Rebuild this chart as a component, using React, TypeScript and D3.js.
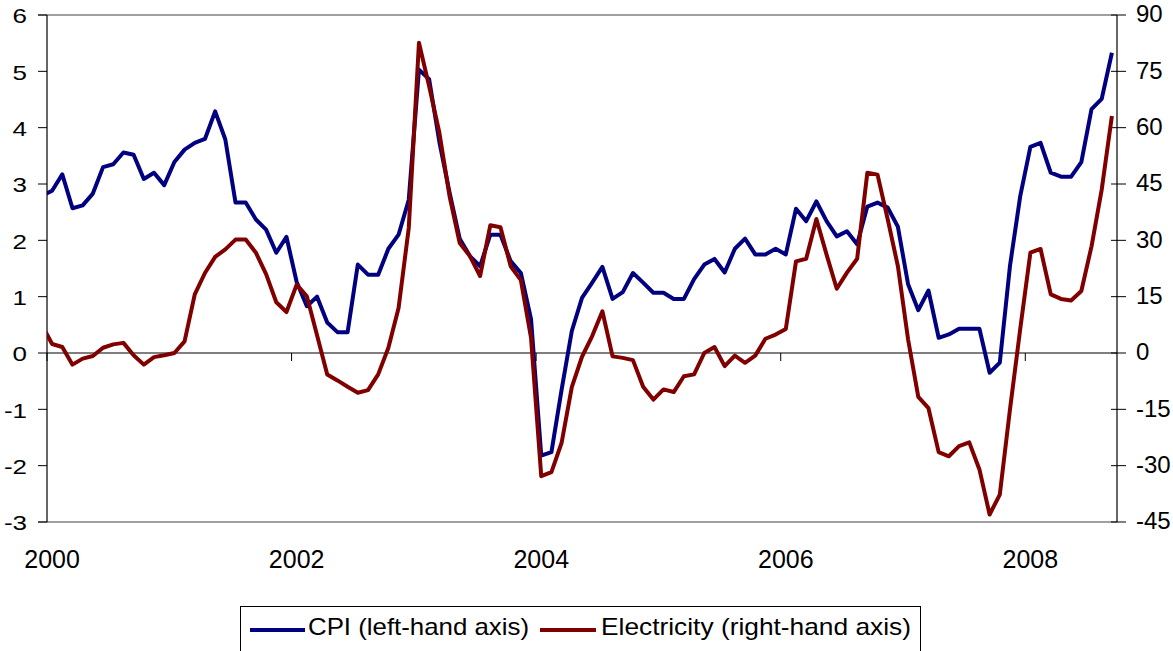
import React from 'react';
import * as d3 from 'd3';

// monthly, Dec 1999 .. Sep 2008 (first point sits just left of the axis and is clipped)
const cpi = [
  2.79,
  2.88, 3.17, 2.57, 2.62, 2.83, 3.30, 3.35, 3.56, 3.52, 3.09, 3.20, 2.98,
  3.39, 3.61, 3.73, 3.80, 4.29, 3.79, 2.67, 2.67, 2.37, 2.19, 1.78, 2.06,
  1.26, 0.83, 1.00, 0.54, 0.37, 0.37, 1.57, 1.39, 1.39, 1.85, 2.10, 2.72,
  5.03, 4.86, 3.75, 2.85, 2.03, 1.72, 1.54, 2.10, 2.10, 1.63, 1.42, 0.60,
  -1.82, -1.76, -0.65, 0.39, 0.98, 1.25, 1.53, 0.96, 1.08, 1.42, 1.25, 1.07,
  1.07, 0.96, 0.96, 1.31, 1.57, 1.67, 1.43, 1.85, 2.03, 1.75, 1.75, 1.85,
  1.75, 2.56, 2.34, 2.69, 2.34, 2.07, 2.16, 1.93, 2.60, 2.67, 2.58, 2.24,
  1.22, 0.76, 1.11, 0.27, 0.33, 0.43, 0.43, 0.43, -0.35, -0.17, 1.55, 2.78,
  3.66, 3.73, 3.20, 3.13, 3.13, 3.39, 4.33, 4.51, 5.33,
];

const electricity = [
  7.5,
  2.4, 1.6, -3.1, -1.5, -0.8, 1.4, 2.3, 2.7, -0.6, -3.1, -1.1, -0.6,
  0, 3.1, 15.6, 21.3, 25.6, 27.6, 30.2, 30.2, 26.7, 21, 13.5, 10.9,
  18.2, 15.1, 4.7, -5.7, -7.3, -9.0, -10.6, -9.9, -5.7, 1.4, 12.0, 33.3,
  82.6, 71, 58.7, 41.8, 29.3, 25.8, 20.5, 34, 33.5, 23.1, 19.4, 4.0,
  -32.8, -31.7, -23.9, -9.1, -1, 4.5, 11.1, -0.9, -1.3, -1.9, -9.0, -12.4,
  -9.7, -10.4, -6.2, -5.7, 0, 1.6, -3.5, -0.7, -2.6, -0.7, 3.8, 4.9,
  6.4, 24.4, 25.1, 35.7, 26.2, 17.1, 21.4, 25.1, 48.0, 47.5, 35.6, 23.1,
  3.6, -11.7, -14.7, -26.4, -27.5, -24.8, -23.8, -31.0, -43.0, -37.7, -15, 6.3,
  26.7, 27.7, 15.6, 14.4, 14.0, 16.5, 28.4, 43.5, 63.1,
];

const yearLabels = ['2000', '2002', '2004', '2006', '2008'];
const leftTicks = [-3, -2, -1, 0, 1, 2, 3, 4, 5, 6];
const rightTicks = [-45, -30, -15, 0, 15, 30, 45, 60, 75, 90];
const seriesNames = ['CPI (left-hand axis)', 'Electricity (right-hand axis)'];
const colors = ['#000080', '#800000'];

const W = 1173;
const H = 651;
const FONT = "Arial, 'Liberation Sans', sans-serif";

export default function App() {
  const m = { left: 47, right: 1117, top: 15, bottom: 522 };

  // month index: 0 = Jan 2000; point for month i is drawn at i + 0.5
  const x = d3.scaleLinear().domain([0, 105]).range([m.left, m.right]);
  const yL = d3.scaleLinear().domain([-3, 6]).range([m.bottom, m.top]);
  const yR = d3.scaleLinear().domain([-45, 90]).range([m.bottom, m.top]);

  const px = (_: number, i: number) => x(i - 1 + 0.5);
  const cpiLine = d3.line<number>().x(px).y(d => yL(d));
  const elLine = d3.line<number>().x(px).y(d => yR(d));

  const y0 = yL(0);

  return (
    <div style={{ position: 'absolute', left: 0, top: 0 }}>
      <svg width={W} height={H} style={{ display: 'block', background: '#fff' }} fontFamily={FONT}>
        <defs>
          <clipPath id="plot">
            <rect x={m.left} y={m.top - 5} width={m.right - m.left} height={m.bottom - m.top + 10} />
          </clipPath>
        </defs>

        {/* plot border (top / bottom) */}
        <line x1={m.left - 9} x2={m.right} y1={m.top} y2={m.top} stroke="#808080" strokeWidth={1.5} />
        <line x1={m.left - 9} x2={m.right} y1={m.bottom} y2={m.bottom} stroke="#808080" strokeWidth={1.5} />

        {/* left axis */}
        <line x1={m.left} x2={m.left} y1={m.top} y2={m.bottom} stroke="#000" strokeWidth={1.2} />
        {leftTicks.map(t => (
          <g key={'l' + t}>
            <line x1={m.left - 9} x2={m.left} y1={yL(t)} y2={yL(t)} stroke="#000" strokeWidth={1} />
            <text transform={`translate(27,${yL(t)}) scale(1.3,1)`} dy="0.42em" textAnchor="end" fontSize={20}>{t}</text>
          </g>
        ))}

        {/* right axis */}
        <line x1={m.right} x2={m.right} y1={m.top} y2={m.bottom} stroke="#000" strokeWidth={1.2} />
        {rightTicks.map(t => (
          <g key={'r' + t}>
            <line x1={m.right - 6} x2={m.right + 9} y1={yR(t)} y2={yR(t)} stroke="#000" strokeWidth={1} />
            <text x={1136} y={yR(t)} dy="0.3em" textAnchor="start" fontSize={24}>{t}</text>
          </g>
        ))}

        {/* zero line with year ticks */}
        <line x1={m.left} x2={m.right} y1={y0} y2={y0} stroke="#000" strokeWidth={1.2} />
        {yearLabels.map((lab, k) => (
          <g key={lab}>
            <line x1={x(k * 24)} x2={x(k * 24)} y1={y0} y2={y0 + 8} stroke="#000" strokeWidth={1} />
            <text x={x(k * 24 + 0.5)} y={568} textAnchor="middle" fontSize={25}>{lab}</text>
          </g>
        ))}

        <g clipPath="url(#plot)" fill="none" strokeWidth={4} strokeLinejoin="round">
          <path d={cpiLine(cpi) || ''} stroke={colors[0]} />
          <path d={elLine(electricity) || ''} stroke={colors[1]} />
        </g>

        {/* legend */}
        <rect x={240.5} y={606.5} width={680} height={60} fill="#fff" stroke="#000" strokeWidth={1} />
        <line x1={250} x2={305} y1={630} y2={630} stroke={colors[0]} strokeWidth={4} />
        <text x={308} y={635} fontSize={24} textLength={221} lengthAdjust="spacingAndGlyphs">{seriesNames[0]}</text>
        <line x1={540} x2={596} y1={630} y2={630} stroke={colors[1]} strokeWidth={4} />
        <text x={601} y={635} fontSize={24} textLength={310} lengthAdjust="spacingAndGlyphs">{seriesNames[1]}</text>
      </svg>
    </div>
  );
}
